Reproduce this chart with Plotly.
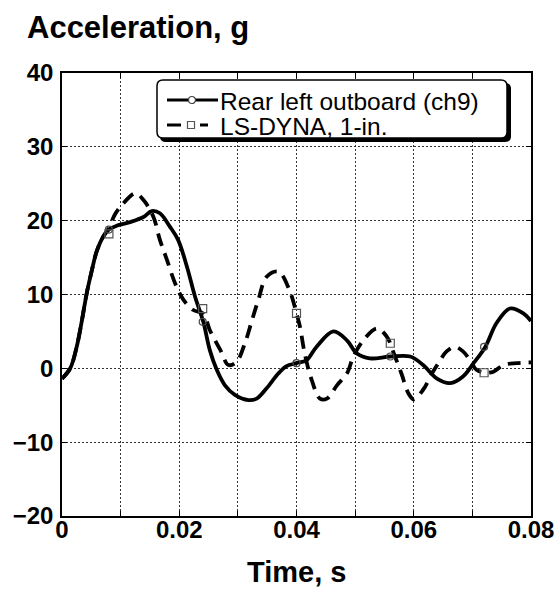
import plotly.graph_objects as go

# Rear left outboard accelerometer (ch9), test record
test_t = [0.0000, 0.0014, 0.0025, 0.0034, 0.0042, 0.0051, 0.0059, 0.0070, 0.0080,
          0.0093, 0.0116, 0.0139, 0.0153, 0.0167, 0.0184, 0.0198, 0.0213, 0.0227,
          0.0241, 0.0252, 0.0264, 0.0278, 0.0295, 0.0318, 0.0332, 0.0349, 0.0369,
          0.0383, 0.0400, 0.0417, 0.0434, 0.0463, 0.0486, 0.0503, 0.0525, 0.0560,
          0.0594, 0.0616, 0.0639, 0.0662, 0.0684, 0.0702, 0.0722, 0.0741, 0.0764,
          0.0787, 0.0800]
test_g = [-1.4, 0.0, 2.9, 6.5, 10.1, 13.3, 15.8, 17.8, 18.8,
          19.3, 19.8, 20.5, 21.3, 21.0, 19.2, 17.4, 13.8, 9.7,
          6.3, 2.5, -0.2, -2.3, -3.6, -4.3, -4.1, -2.7, -0.7,
          0.3, 0.7, 1.1, 2.9, 5.0, 3.8, 2.0, 1.35, 1.6,
          1.6, 0.45, -1.35, -2.0, -1.1, 0.7, 2.9, 6.1, 8.1,
          7.45, 6.4]

# LS-DYNA model, 1-in. mesh
dyna_t = [0.0000, 0.0014, 0.0025, 0.0034, 0.0042, 0.0051, 0.0059, 0.0070, 0.0080,
          0.0090, 0.0102, 0.0125, 0.0139, 0.0156, 0.0167, 0.0179, 0.0193, 0.0207,
          0.0224, 0.0241, 0.0252, 0.0270, 0.0284, 0.0298, 0.0312, 0.0324, 0.0335,
          0.0349, 0.0369, 0.0387, 0.0400, 0.0406, 0.0414, 0.0426, 0.0440, 0.0452,
          0.0469, 0.0486, 0.0497, 0.0514, 0.0537, 0.0554, 0.0568, 0.0579, 0.0591,
          0.0600, 0.0616, 0.0631, 0.0642, 0.0656, 0.0670, 0.0684, 0.0696, 0.0707,
          0.0722, 0.0736, 0.0753, 0.0776, 0.0800]
dyna_g = [-1.4, 0.0, 2.9, 6.5, 10.1, 13.3, 15.8, 17.8, 19.0,
          20.8, 22.1, 23.7, 22.8, 20.5, 17.4, 14.7, 11.5, 9.3,
          7.9, 7.4, 5.2, 2.5, 0.45, 0.9, 3.4, 6.5, 9.3,
          12.4, 13.1, 10.8, 7.45, 5.6, 2.0, -1.6, -4.1, -4.1,
          -2.3, -0.7, 1.6, 3.8, 5.4, 4.3, 1.6, -0.7, -3.4,
          -4.2, -2.9, -0.7, 0.7, 2.3, 2.9, 2.3, 1.1, -0.2,
          -0.6, -0.45, 0.45, 0.7, 0.8]

# Plot symbols along each curve
test_mark_t = [0.008, 0.024, 0.040, 0.056, 0.072]
test_mark_g = [18.8, 6.3, 0.7, 1.6, 2.9]
dyna_mark_t = [0.008, 0.024, 0.040, 0.056, 0.072]
dyna_mark_g = [18.2, 8.1, 7.45, 3.4, -0.6]

series_names = ["Rear left outboard (ch9)", "LS-DYNA, 1-in."]

FONT = "Liberation Sans, Arial, Helvetica, sans-serif"
W, H = 560, 590
ML, MR, MT, MB = 62, 29, 73, 74
PW, PH = W - ML - MR, H - MT - MB


def px(x, y):
    """Pixel position in the page -> paper coordinates."""
    return (x - ML) / PW, (H - MB - y) / PH


def rounded_rect(x0, y0, x1, y1, r):
    ax, ay = px(x0, y0)
    bx, by = px(x1, y1)
    rx, ry = r / PW, r / PH
    return (f"M{ax + rx},{ay} L{bx - rx},{ay} Q{bx},{ay} {bx},{ay - ry} "
            f"L{bx},{by + ry} Q{bx},{by} {bx - rx},{by} L{ax + rx},{by} "
            f"Q{ax},{by} {ax},{by + ry} L{ax},{ay - ry} Q{ax},{ay} {ax + rx},{ay} Z")


fig = go.Figure()

solid = dict(color="black", width=3.8)
dashed = dict(color="black", width=3.8, dash="13px,8px")
circ = dict(symbol="circle-open", size=7, color="#444", line=dict(width=1.2, color="#444"))
sq = dict(symbol="square-open", size=8, color="#555", line=dict(width=1.2, color="#555"))

fig.add_trace(go.Scatter(x=test_t, y=test_g, mode="lines", line=solid, name=series_names[0],
                         line_shape="spline", showlegend=False, hoverinfo="skip"))
fig.add_trace(go.Scatter(x=dyna_t, y=dyna_g, mode="lines", line=dashed, name=series_names[1],
                         line_shape="spline", showlegend=False, hoverinfo="skip"))
fig.add_trace(go.Scatter(x=test_mark_t, y=test_mark_g, mode="markers", marker=circ,
                         showlegend=False))
fig.add_trace(go.Scatter(x=dyna_mark_t, y=dyna_mark_g, mode="markers", marker=sq,
                         showlegend=False))

grid = dict(showgrid=True, gridcolor="#333", gridwidth=1, griddash="1.5px,2.5px")
axis_common = dict(showline=True, linecolor="black", linewidth=1.6, mirror="ticks",
                   ticks="inside", ticklen=5, tickwidth=1, tickcolor="black",
                   zeroline=False, automargin=False,
                   tickfont=dict(family=FONT, size=24, color="black", weight="bold"),
                   **grid)

fig.update_xaxes(range=[0, 0.08], tick0=0, dtick=0.02, ticklabelstandoff=-9,
                 minor=dict(dtick=0.01, ticks="inside", ticklen=5, tickcolor="black",
                            showgrid=True, gridcolor="#333", gridwidth=1,
                            griddash="1.5px,2.5px"),
                 **axis_common)
fig.update_yaxes(range=[-20, 40], tick0=0, dtick=10, ticklabelstandoff=2, **axis_common)

# legend frame with drop shadow
fig.add_shape(type="path", xref="paper", yref="paper", layer="above",
              path=rounded_rect(160, 83, 511, 142, 6),
              fillcolor="black", line=dict(width=0))
fig.add_shape(type="path", xref="paper", yref="paper", layer="above",
              path=rounded_rect(157, 80, 507, 138, 6),
              fillcolor="white", line=dict(color="black", width=1.5))


def hline(x0, x1, y, dash="solid"):
    a = px(x0, y)
    b = px(x1, y)
    fig.add_shape(type="line", xref="paper", yref="paper", layer="above",
                  x0=a[0], y0=a[1], x1=b[0], y1=b[1],
                  line=dict(color="black", width=3, dash=dash))


def symbol(kind, x, y, r, color):
    a = px(x - r, y + r)
    b = px(x + r, y - r)
    fig.add_shape(type=kind, xref="paper", yref="paper", layer="above",
                  x0=a[0], y0=a[1], x1=b[0], y1=b[1],
                  fillcolor="white", line=dict(color=color, width=1.2))


# legend rows: sample line, symbol, label
row_y = [100, 125]
hline(167, 218, row_y[0])
symbol("circle", 192, row_y[0], 3.5, "#444")
hline(167, 181, row_y[1])
hline(200, 208, row_y[1])
symbol("rect", 191, row_y[1], 3.5, "#555")
for name, yy in zip(series_names, row_y):
    ax_, ay_ = px(219, yy)
    fig.add_annotation(text=name, xref="paper", yref="paper", x=ax_, y=ay_,
                       xanchor="left", yanchor="middle", showarrow=False, yshift=-1,
                       borderpad=0,
                       font=dict(family=FONT, size=24.5, color="black"))

fig.update_layout(
    width=W, height=H,
    margin=dict(l=ML, r=MR, t=MT, b=MB),
    plot_bgcolor="white", paper_bgcolor="white",
    font=dict(family=FONT, color="black"),
    showlegend=False,
)

tx, ty = px(25, 8)
fig.add_annotation(text="Acceleration, g", xref="paper", yref="paper", x=tx, y=ty,
                   xanchor="left", yanchor="top", showarrow=False,
                   font=dict(family=FONT, size=31, color="black", weight="bold"))
fig.add_annotation(text="Time, s", xref="paper", yref="paper", x=0.5, y=0,
                   xanchor="center", yanchor="top", yshift=-38, showarrow=False,
                   font=dict(family=FONT, size=29, color="black", weight="bold"))

fig.write_html("out.html")
